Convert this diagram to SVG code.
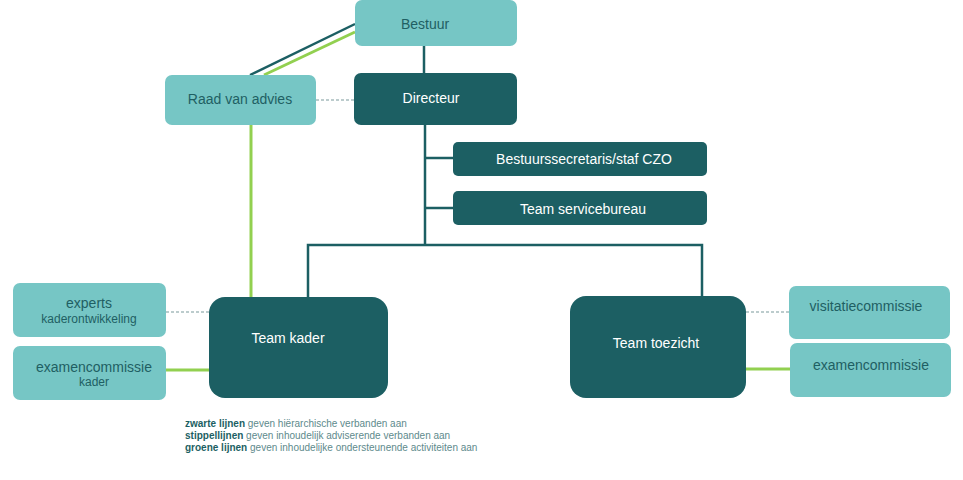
<svg xmlns="http://www.w3.org/2000/svg" width="963" height="480" viewBox="0 0 963 480">
<style>
.light{fill:#76C6C5}
.dark{fill:#1C5F63}
.t{font-family:"Liberation Sans","DejaVu Sans",sans-serif;font-size:14px;text-anchor:middle;dominant-baseline:central}
.tl{fill:#1F5F63}
.td{fill:#FFFFFF}
.s{font-size:12px}
.h{stroke:#1C5F63;stroke-width:2.5;fill:none}
.g{stroke:#92D050;stroke-width:3;fill:none}
.d{stroke:#7A9A9C;stroke-width:1.2;stroke-dasharray:3 2;fill:none}
.leg{font-family:"Liberation Sans","DejaVu Sans",sans-serif;font-size:10px;fill:#5E8A8C}
.leg tspan.b{font-weight:bold;fill:#1C5F63}
</style>
<rect width="963" height="480" fill="#FFFFFF"/>
<g id="connectors">
<line class="h" x1="355" y1="24" x2="250" y2="75"/>
<line class="g" x1="355" y1="32" x2="264" y2="75"/>
<line class="h" x1="424" y1="46" x2="424" y2="73"/>
<line class="d" x1="316" y1="100" x2="354" y2="100"/>
<line class="g" x1="251" y1="125" x2="251" y2="297"/>
<line class="h" x1="425" y1="125" x2="425" y2="245"/>
<line class="h" x1="425" y1="158" x2="453" y2="158"/>
<line class="h" x1="425" y1="208" x2="453" y2="208"/>
<polyline class="h" points="308,297 308,245 702,245 702,296"/>
<line class="d" x1="166" y1="312" x2="209" y2="312"/>
<line class="g" x1="166" y1="370" x2="209" y2="370"/>
<line class="d" x1="746" y1="312" x2="789" y2="312"/>
<line class="g" x1="746" y1="369" x2="790" y2="369"/>
</g>
<g id="bestuur"><rect class="light" x="355" y="0" width="162" height="46" rx="7"/><text class="t tl" x="425" y="24">Bestuur</text></g>
<g id="raad"><rect class="light" x="165" y="75" width="151" height="50" rx="7"/><text class="t tl" x="240" y="99">Raad van advies</text></g>
<g id="directeur"><rect class="dark" x="354" y="73" width="163" height="52" rx="7"/><text class="t td" x="431" y="98">Directeur</text></g>
<g id="secretaris"><rect class="dark" x="453" y="142" width="254" height="34" rx="5"/><text class="t td" x="584" y="159">Bestuurssecretaris/staf CZO</text></g>
<g id="servicebureau"><rect class="dark" x="453" y="191" width="254" height="34" rx="5"/><text class="t td" x="583" y="209">Team servicebureau</text></g>
<g id="teamkader"><rect class="dark" x="209" y="297" width="179" height="101" rx="16"/><text class="t td" x="288" y="338">Team kader</text></g>
<g id="teamtoezicht"><rect class="dark" x="570" y="296" width="176" height="102" rx="16"/><text class="t td" x="656" y="343">Team toezicht</text></g>
<g id="experts"><rect class="light" x="13" y="283" width="153" height="54" rx="7"/><text class="t tl" x="89" y="303">experts</text><text class="t tl s" x="89" y="319">kaderontwikkeling</text></g>
<g id="examenkader"><rect class="light" x="13" y="346" width="153" height="54" rx="7"/><text class="t tl" x="94" y="367">examencommissie</text><text class="t tl s" x="94" y="382">kader</text></g>
<g id="visitatie"><rect class="light" x="789" y="286" width="161" height="53" rx="7"/><text class="t tl" x="866" y="306">visitatiecommissie</text></g>
<g id="examen"><rect class="light" x="790" y="343" width="161" height="54" rx="7"/><text class="t tl" x="871" y="365">examencommissie</text></g>
<g id="legend">
<text class="leg" x="185" y="427"><tspan class="b">zwarte lijnen</tspan> geven hiërarchische verbanden aan</text>
<text class="leg" x="185" y="439"><tspan class="b">stippellijnen</tspan> geven inhoudelijk adviserende verbanden aan</text>
<text class="leg" x="185" y="451"><tspan class="b">groene lijnen</tspan> geven inhoudelijke ondersteunende activiteiten aan</text>
</g>
</svg>
